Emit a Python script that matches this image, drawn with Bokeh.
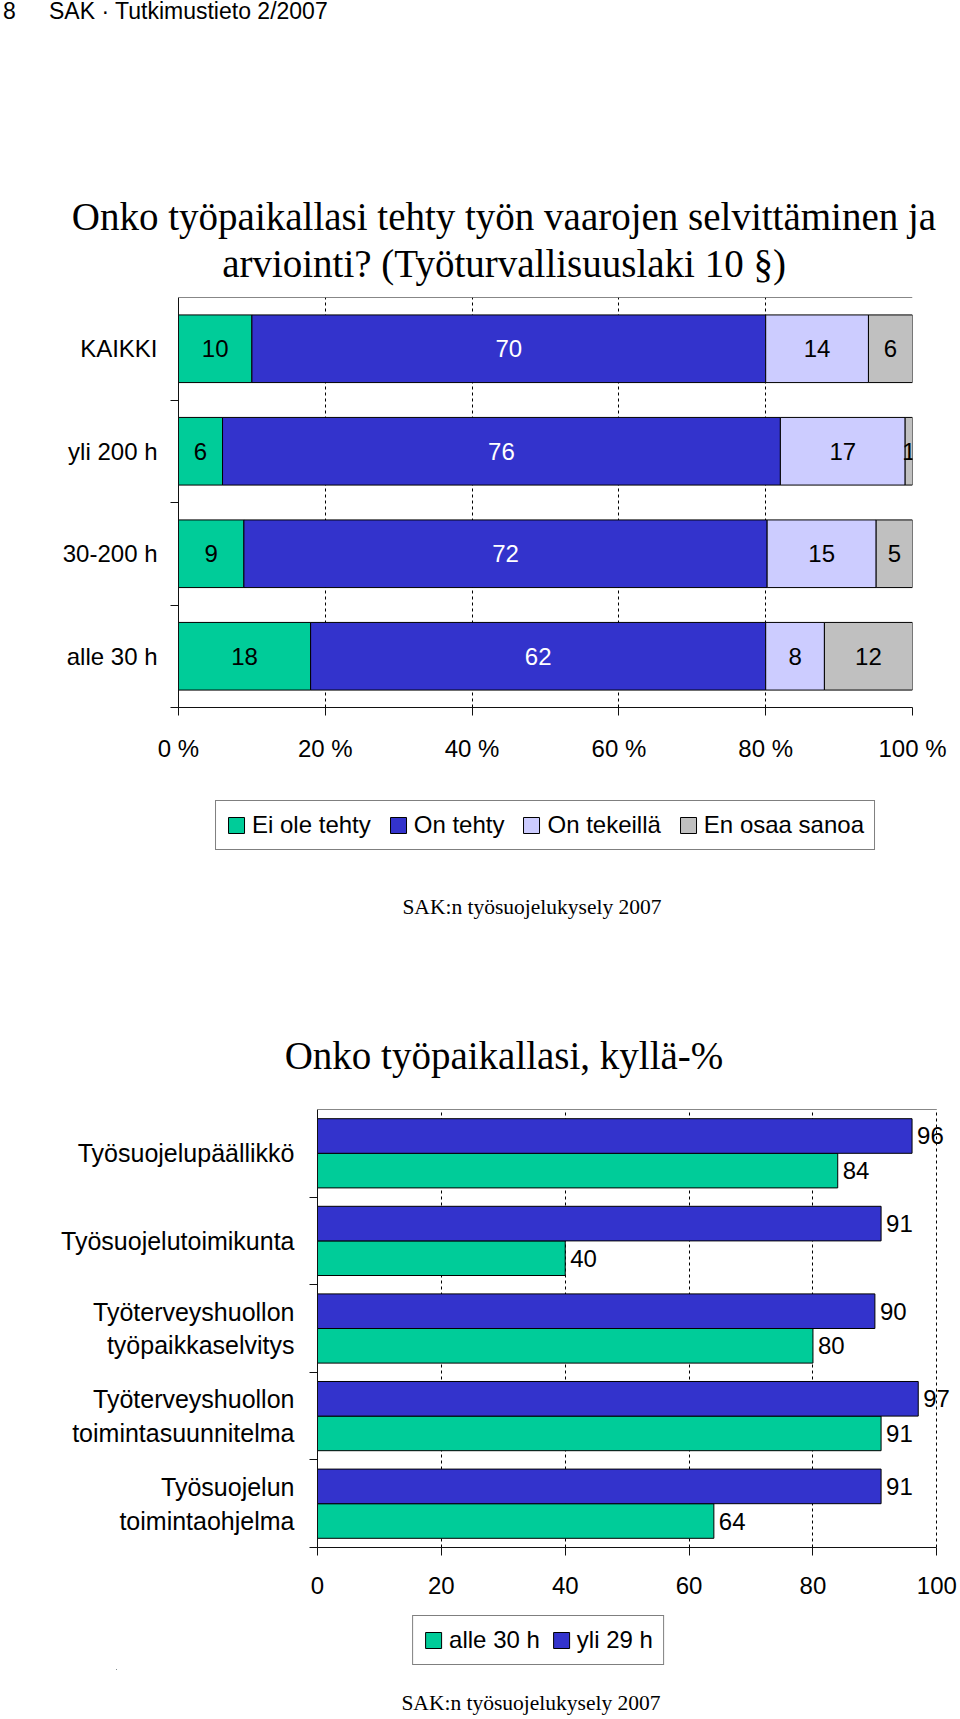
from bokeh.plotting import figure
from bokeh.models import (ColumnDataSource, Range1d, FixedTicker, Legend,
                          LegendItem, Span, Div)
from bokeh.embed import file_html
from bokeh.resources import INLINE
from bokeh.core.properties import value

# ---------------- data ----------------
categories1 = ["KAIKKI", "yli 200 h", "30-200 h", "alle 30 h"]
series1 = ["Ei ole tehty", "On tehty", "On tekeillä", "En osaa sanoa"]
ei_ole_tehty = [10, 6, 9, 18]
on_tehty = [70, 76, 72, 62]
on_tekeilla = [14, 17, 15, 8]
en_osaa_sanoa = [6, 1, 5, 12]
x_ticks1 = [0, 20, 40, 60, 80, 100]
x_tick_labels1 = ["0 %", "20 %", "40 %", "60 %", "80 %", "100 %"]

categories2 = ["Työsuojelupäällikkö", "Työsuojelutoimikunta",
               "Työterveyshuollon\ntyöpaikkaselvitys",
               "Työterveyshuollon\ntoimintasuunnitelma",
               "Työsuojelun\ntoimintaohjelma"]
series2 = ["alle 30 h", "yli 29 h"]
alle_30_h = [84, 40, 80, 91, 64]
yli_29_h = [96, 91, 90, 97, 91]
x_ticks2 = [0, 20, 40, 60, 80, 100]
x_tick_labels2 = ["0", "20", "40", "60", "80", "100"]

header_page = "8"
header_text = "SAK · Tutkimustieto 2/2007"
title1_lines = ["Onko työpaikallasi tehty työn vaarojen selvittäminen ja",
                "arviointi? (Työturvallisuuslaki 10 §)"]
title2 = "Onko työpaikallasi, kyllä-%"
source_text = "SAK:n työsuojelukysely 2007"

# ---------------- style ----------------
SANS = "Liberation Sans"
SERIF = "Liberation Serif"
GREEN = "#00CC99"
BLUE = "#3333CC"
LAV = "#CCCCFF"
GRAY = "#C0C0C0"
AXIS = "#111111"
W = 960


def abs_text(txt, x, y, font, size, anchor="center"):
    tx = "-50%" if anchor == "center" else "0"
    return (f'<div style="position:absolute;left:{x}px;top:{y}px;'
            f'transform:translate({tx},-50%);white-space:nowrap;'
            f'font-family:\'{font}\';font-size:{size}px;line-height:1;'
            f'color:#000;">{txt}</div>')


def text_block(height, parts):
    html = (f'<div style="position:relative;width:{W}px;height:{height}px;'
            f'overflow:visible;">' + "".join(parts) + '</div>')
    return Div(text=html, width=W, height=height, margin=0)


def legend_figure(height, left_border, top_border, bottom_border, names, colors, spacing):
    """A frame-only figure that carries the horizontal legend box.
    Each legend swatch is taken from a proxy bar that lies outside the
    visible ranges, so nothing but the legend is drawn."""
    lf = figure(width=W, height=height, x_range=Range1d(0, 1), y_range=Range1d(0, 1),
                output_backend="svg", toolbar_location=None,
                x_axis_type=None, y_axis_type=None, margin=0,
                min_border_left=left_border, min_border_right=0,
                min_border_top=top_border, min_border_bottom=bottom_border)
    lf.outline_line_color = None
    lf.grid.visible = False
    items = []
    for name, col in zip(names, colors):
        r = lf.hbar(y=[-5], left=[-5], right=[-5], height=0.5,
                    fill_color=col, line_color="black", line_width=1)
        items.append(LegendItem(label=name, renderers=[r]))
    lf.add_layout(Legend(items=items, location="center", orientation="horizontal",
                         label_text_font=SANS, label_text_font_size="24px",
                         label_text_color="black",
                         label_height=24, glyph_height=20, glyph_width=20,
                         label_standoff=6, spacing=spacing, padding=10, margin=0,
                         border_line_color="black", border_line_width=1,
                         background_fill_color="white", background_fill_alpha=1),
                  "center")
    return lf


# ---------------- header + title 1 (page y 0..290) ----------------
div_top = text_block(290, [
    abs_text(header_page, 3, 11, SANS, 23, "left"),
    abs_text(header_text, 49, 11, SANS, 23, "left"),
    abs_text(title1_lines[0], 504, 216, SERIF, 39),
    abs_text(title1_lines[1], 504, 263, SERIF, 39),
])

# ================= chart 1 (page y 290..777) =================
n1 = len(categories1)
p1 = figure(frame_width=734, frame_height=410,
            x_range=Range1d(0, 100), y_range=Range1d(0, n1),
            output_backend="svg", toolbar_location=None, margin=0,
            min_border_left=178, min_border_right=48,
            min_border_top=7, min_border_bottom=70)
p1.outline_line_color = None
ypos1 = [n1 - i - 0.5 for i in range(n1)]
values1 = [ei_ole_tehty, on_tehty, on_tekeilla, en_osaa_sanoa]
colors1 = [GREEN, BLUE, LAV, GRAY]
textcolors1 = ["black", "white", "black", "black"]
totals1 = [sum(v[i] for v in values1) for i in range(n1)]

left = [0.0] * n1
lx, ly, lt, lc = [], [], [], []
for name, vals, col, tcol in zip(series1, values1, colors1, textcolors1):
    right = [l + v / t * 100 for l, v, t in zip(left, vals, totals1)]
    src = ColumnDataSource(dict(y=ypos1, left=left, right=right))
    p1.hbar(y="y", left="left", right="right", height=0.66, source=src,
            fill_color=col, line_color="black", line_width=1)
    for i in range(n1):
        lx.append((left[i] + right[i]) / 2)
        ly.append(ypos1[i])
        lt.append(str(vals[i]))
        lc.append(tcol)
    left = right

p1.text(x="x", y="y", text="t", text_color="c",
        source=ColumnDataSource(dict(x=lx, y=ly, t=lt, c=lc)),
        text_align="center", text_baseline="middle",
        text_font=value(SANS), text_font_size=value("24px"))

p1.xaxis.ticker = FixedTicker(ticks=x_ticks1)
p1.xaxis.major_label_overrides = {t: s for t, s in zip(x_ticks1, x_tick_labels1)}
p1.yaxis.ticker = FixedTicker(ticks=ypos1, minor_ticks=[0, 1, 2, 3])
p1.yaxis.major_label_overrides = {y: c for y, c in zip(ypos1, categories1)}
for ax in (p1.xaxis[0], p1.yaxis[0]):
    ax.axis_line_color = AXIS
    ax.major_label_text_font = SANS
    ax.major_label_text_font_size = "24px"
    ax.major_label_text_color = "black"
    ax.major_tick_line_color = AXIS
    ax.minor_tick_line_color = AXIS
p1.xaxis.major_tick_out = 8
p1.xaxis.major_tick_in = 0
p1.xaxis.minor_tick_line_color = None
p1.xaxis.major_label_standoff = 19
p1.yaxis.major_tick_out = 0
p1.yaxis.major_tick_in = 0
p1.yaxis.minor_tick_out = 8
p1.yaxis.minor_tick_in = 0
p1.yaxis.major_label_standoff = 13
p1.xgrid.grid_line_color = "black"
p1.xgrid.grid_line_dash = "3 3"
p1.xgrid.grid_line_width = 1
p1.ygrid.visible = False
p1.add_layout(Span(location=n1, dimension="width", line_color=AXIS, line_width=1))

# legend 1 (page y 777..857, box centred at x 545, y 825)
leg1 = legend_figure(80, 130, 16, 0, series1, colors1, 17)

# ---------------- source 1 + title 2 (page y 857..1100) ----------------
div_mid = text_block(243, [
    abs_text(source_text, 532, 908 - 857, SERIF, 21.5),
    abs_text(title2, 504, 1055 - 857, SERIF, 39),
])

# ================= chart 2 (page y 1100..1611) =================
n2 = len(categories2)
p2 = figure(frame_width=641, frame_height=438,
            x_range=Range1d(0, 103.5), y_range=Range1d(0, n2),
            output_backend="svg", toolbar_location=None, margin=0,
            min_border_left=317, min_border_right=2,
            min_border_top=9, min_border_bottom=64)
p2.outline_line_color = None
ypos2 = [n2 - i - 0.5 for i in range(n2)]
bar_h = 0.395
y_blue = [y + bar_h / 2 for y in ypos2]
y_green = [y - bar_h / 2 for y in ypos2]

p2.hbar(y=y_green, left=0, right=alle_30_h, height=bar_h,
        fill_color=GREEN, line_color="black", line_width=1)
p2.hbar(y=y_blue, left=0, right=yli_29_h, height=bar_h,
        fill_color=BLUE, line_color="black", line_width=1)

vals2 = yli_29_h + alle_30_h
p2.text(x=vals2, y=y_blue + y_green, text=[str(v) for v in vals2],
        x_offset=5, text_baseline="middle", text_align="left",
        text_font=value(SANS), text_font_size=value("24px"), text_color="black")

# top border of the plot area, from first to last tick
p2.segment(x0=[x_ticks2[0]], x1=[x_ticks2[-1]], y0=[n2], y1=[n2],
           line_color=AXIS, line_width=1)

p2.xaxis.ticker = FixedTicker(ticks=x_ticks2)
p2.xaxis.bounds = (x_ticks2[0], x_ticks2[-1])
p2.xaxis.major_label_overrides = {t: s for t, s in zip(x_ticks2, x_tick_labels2)}
p2.yaxis.ticker = FixedTicker(ticks=ypos2, minor_ticks=[0, 1, 2, 3, 4])
p2.yaxis.major_label_overrides = {y: c for y, c in zip(ypos2, categories2)}
for ax in (p2.xaxis[0], p2.yaxis[0]):
    ax.axis_line_color = AXIS
    ax.major_label_text_font = SANS
    ax.major_label_text_color = "black"
    ax.major_tick_line_color = AXIS
    ax.minor_tick_line_color = AXIS
p2.xaxis.major_label_text_font_size = "24px"
p2.yaxis.major_label_text_font_size = "25px"
p2.xaxis.major_tick_out = 8
p2.xaxis.major_tick_in = 0
p2.xaxis.minor_tick_line_color = None
p2.xaxis.major_label_standoff = 21
p2.yaxis.major_tick_out = 0
p2.yaxis.major_tick_in = 0
p2.yaxis.minor_tick_out = 8
p2.yaxis.minor_tick_in = 0
p2.yaxis.major_label_standoff = 15
p2.xgrid.grid_line_color = "black"
p2.xgrid.grid_line_dash = "3 3"
p2.ygrid.visible = False

# legend 2 (page y 1611..1680, box centred at x 538, y 1640)
leg2 = legend_figure(69, 116, 0, 11, series2, [GREEN, BLUE], 11)

# ---------------- source 2 (page y 1680..1716) ----------------
div_bot = text_block(36, [abs_text(source_text, 531, 1704 - 1680, SERIF, 21.5)])

open("out.html", "w", encoding="utf-8").write(
    file_html([div_top, p1, leg1, div_mid, p2, leg2, div_bot], INLINE))
